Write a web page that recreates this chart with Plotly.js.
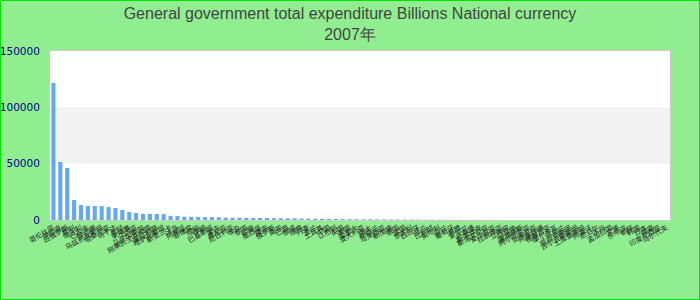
<!DOCTYPE html>
<html>
<head>
<meta charset="utf-8">
<script src="https://cdn.plot.ly/plotly-3.0.1.min.js"></script>
<style>
  html, body { margin: 0; padding: 0; background: #90ee90; }
  #wrap { position: relative; width: 700px; height: 300px; }
  #chart { width: 700px; height: 300px; }
  #frame { position: absolute; left: 0; top: 0; width: 700px; height: 300px; box-sizing: border-box; border: 1px solid #00e600; pointer-events: none; }
</style>
</head>
<body>
<div id="wrap"><div id="chart"></div><div id="frame"></div></div>
<script>
// Categories (labels unreadable in reference; rendered as missing glyphs)
const categories = [
  "哥伦比亚","伊拉克","白俄罗斯","智利","匈牙利","巴拉圭","黎巴嫩","乌兹别克斯坦","坦桑尼亚","乌干达",
  "老挝","柬埔寨","几内亚","马达加斯加","刚果民主共和国","塞拉利昂","哈萨克斯坦","斯里兰卡","冰岛","阿根廷",
  "菲律宾","缅甸","伊朗","巴基斯坦","蒙古","肯尼亚","尼日利亚","埃及","泰国","印度",
  "墨西哥","捷克","俄罗斯","南非","巴西","挪威","瑞典","丹麦","波兰","土耳其",
  "中国","以色列","英国","美国","加拿大","澳大利亚","瑞士","新西兰","马来西亚","新加坡",
  "德国","法国","意大利","西班牙","荷兰","比利时","奥地利","芬兰","葡萄牙","希腊",
  "爱尔兰","卢森堡","斯洛伐克","斯洛文尼亚","爱沙尼亚","拉脱维亚","立陶宛","马耳他","塞浦路斯","阿尔巴尼亚",
  "亚美尼亚","阿塞拜疆","格鲁吉亚","摩尔多瓦","乌克兰","塔吉克斯坦","吉尔吉斯斯坦","土库曼斯坦","阿富汗","尼泊尔",
  "不丹","孟加拉国","文莱","东帝汶","朝鲜","韩国","日本","越南","印度尼西亚","马尔代夫"
];

// Values (billions, national currency); null = no data
const values = [
  121600, 51500, 46200, 17800, 13300, 12500, 12400, 12300, 11500, 10600,
  8900, 7100, 6200, 5500, 5400, 5300, 5200, 3700, 3500, 2900,
  2800, 2700, 2650, 2550, 2450, 2100, 2000, 1950, 1880, 1800,
  1760, 1700, 1640, 1600, 1520, 1450, 1250, 1180, 1090, 1030,
  960, 870, 830, 750, 700, 660, 590, 560, 510, 470,
  450, 400, 360, 340, 300, 270, 250, 210, 190, 170,
  140, 120, 95, 80, 55, 40, 20, null, null, null,
  null, null, null, null, null, null, null, null, null, null,
  null, null, null, null, null, null, null, null, null, null
];

const yTicks = [0, 50000, 100000, 150000];
const yTickText = ["0", "50000", "100000", "150000"];

const titleText = "General government total expenditure Billions National currency<br>2007年";

// alternating band shading between y ticks
const bands = [];
for (let i = 0; i < yTicks.length - 1; i++) {
  bands.push({
    type: "rect", xref: "paper", yref: "y", layer: "below",
    x0: 0, x1: 1, y0: yTicks[i], y1: yTicks[i + 1],
    fillcolor: i % 2 === 1 ? "#f2f2f2" : "#ffffff", line: { width: 0 }
  });
}

const trace = {
  type: "bar",
  x: categories,
  y: values,
  marker: { color: "#64a8f1" },
  hoverinfo: "x+y"
};

const layout = {
  width: 700, height: 300,
  paper_bgcolor: "#90ee90",
  plot_bgcolor: "#ffffff",
  margin: { l: 50, r: 30, t: 51, b: 80 },
  bargap: 0.4,
  showlegend: false,
  title: {
    text: titleText,
    font: { family: "Liberation Sans, Arial, sans-serif", size: 16, color: "#444444" },
    x: 0.5, xanchor: "center",
    y: 1 - 15 / 300, yref: "container", yanchor: "top", pad: { t: 4 }
  },
  xaxis: {
    type: "category",
    tickmode: "linear", dtick: 1, tick0: 0,
    tickangle: -30,
    tickfont: { family: "Noto Sans CJK SC, sans-serif", size: 7, color: "#222222" },
    showgrid: false, zeroline: false,
    showline: true, linecolor: "#cccccc", linewidth: 1, mirror: true,
    ticks: "", fixedrange: true
  },
  yaxis: {
    range: [0, 150000],
    tickmode: "array", tickvals: yTicks, ticktext: yTickText,
    tickfont: { family: "DejaVu Sans, sans-serif", size: 10.5, color: "#00008b" },
    showgrid: false, zeroline: false,
    showline: true, linecolor: "#cccccc", linewidth: 1, mirror: true,
    ticks: "", ticklabelstandoff: 7, fixedrange: true
  },
  shapes: bands
};

Plotly.newPlot("chart", [trace], layout, { displayModeBar: false, staticPlot: true });
</script>
</body>
</html>
